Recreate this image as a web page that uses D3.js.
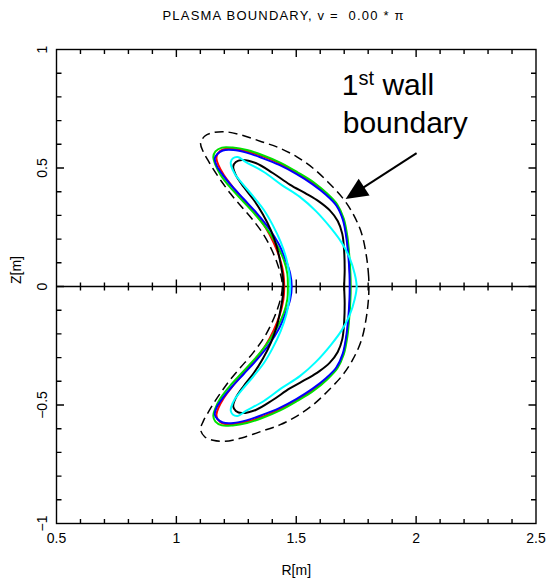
<!DOCTYPE html>
<html>
<head>
<meta charset="utf-8">
<script src="https://cdn.jsdelivr.net/npm/d3@7"></script>
<style>
  html, body { margin: 0; padding: 0; background: #fff; }
  svg { display: block; }
</style>
</head>
<body>
<script>
// Plasma boundary cross-sections at toroidal angle v = 0 (up-down symmetric).
// Each array holds the upper half as [R, Z] in metres, running from the
// outboard midplane over the top and tip back down to the inboard midplane.
const wallBoundary = [
  [1.803, 0], [1.802, 0.041], [1.793, 0.126], [1.772, 0.226], [1.735, 0.310],
  [1.694, 0.373], [1.631, 0.442], [1.569, 0.500], [1.501, 0.548], [1.431, 0.584],
  [1.355, 0.611], [1.272, 0.639], [1.202, 0.653], [1.153, 0.649], [1.119, 0.635],
  [1.101, 0.604], [1.112, 0.569], [1.131, 0.534], [1.156, 0.492], [1.190, 0.441],
  [1.227, 0.390], [1.269, 0.340], [1.319, 0.281], [1.365, 0.217], [1.398, 0.154],
  [1.423, 0.091], [1.438, 0.036], [1.442, 0]
];
const boundaryRed = [
  [1.725, 0], [1.724, 0.053], [1.719, 0.133], [1.710, 0.213], [1.696, 0.285],
  [1.669, 0.344], [1.627, 0.390], [1.569, 0.437], [1.502, 0.479], [1.431, 0.519],
  [1.360, 0.549], [1.294, 0.570], [1.240, 0.580], [1.194, 0.578], [1.173, 0.561],
  [1.167, 0.542], [1.175, 0.513], [1.198, 0.470], [1.235, 0.420], [1.281, 0.365],
  [1.331, 0.306], [1.373, 0.247], [1.406, 0.184], [1.431, 0.120], [1.446, 0.057],
  [1.450, 0]
];
const boundaryGreen = [
  [1.727, 0], [1.726, 0.053], [1.721, 0.133], [1.713, 0.213], [1.698, 0.287],
  [1.671, 0.346], [1.629, 0.392], [1.571, 0.441], [1.504, 0.483], [1.433, 0.523],
  [1.363, 0.553], [1.294, 0.576], [1.235, 0.586], [1.190, 0.586], [1.163, 0.570],
  [1.154, 0.546], [1.163, 0.513], [1.185, 0.470], [1.223, 0.420], [1.273, 0.365],
  [1.327, 0.306], [1.377, 0.243], [1.419, 0.175], [1.448, 0.112], [1.463, 0.053],
  [1.465, 0]
];
const boundaryBlue = [
  [1.723, 0], [1.722, 0.053], [1.717, 0.133], [1.708, 0.213], [1.694, 0.283],
  [1.667, 0.342], [1.625, 0.386], [1.567, 0.432], [1.500, 0.475], [1.429, 0.513],
  [1.358, 0.542], [1.292, 0.565], [1.238, 0.576], [1.194, 0.574], [1.171, 0.559],
  [1.160, 0.540], [1.169, 0.508], [1.194, 0.470], [1.231, 0.424], [1.281, 0.369],
  [1.335, 0.310], [1.385, 0.247], [1.427, 0.179], [1.456, 0.112], [1.475, 0.053],
  [1.481, 0]
];
const boundaryBlack = [
  [1.700, 0], [1.702, 0.070], [1.700, 0.146], [1.692, 0.222], [1.673, 0.276],
  [1.640, 0.321], [1.594, 0.359], [1.544, 0.390], [1.473, 0.430], [1.402, 0.479],
  [1.331, 0.521], [1.273, 0.534], [1.248, 0.525], [1.237, 0.506], [1.248, 0.470],
  [1.281, 0.420], [1.323, 0.365], [1.360, 0.306], [1.394, 0.238], [1.419, 0.167],
  [1.435, 0.095], [1.444, 0.040], [1.446, 0]
];
const boundaryCyan = [
  [1.752, 0], [1.744, 0.053], [1.723, 0.120], [1.690, 0.184], [1.644, 0.247],
  [1.581, 0.319], [1.515, 0.378], [1.440, 0.428], [1.365, 0.483], [1.290, 0.525],
  [1.256, 0.546], [1.235, 0.540], [1.227, 0.525], [1.229, 0.508], [1.244, 0.475],
  [1.277, 0.432], [1.319, 0.382], [1.365, 0.323], [1.402, 0.259], [1.435, 0.188],
  [1.458, 0.120], [1.471, 0.053], [1.475, 0]
];

// Axis tick labels (major ticks) and minor tick positions
const xTickLabels = [0.5, 1, 1.5, 2, 2.5];
const zTickLabels = [-1, -0.5, 0, 0.5, 1];
const xMinorTicks = [0.6, 0.7, 0.8, 0.9, 1.1, 1.2, 1.3, 1.4, 1.6, 1.7, 1.8, 1.9,
                     2.1, 2.2, 2.3, 2.4];
const zMinorTicks = [-0.9, -0.8, -0.7, -0.6, -0.4, -0.3, -0.2, -0.1,
                     0.1, 0.2, 0.3, 0.4, 0.6, 0.7, 0.8, 0.9];

// Annotation: label anchors and arrow, in data units (R, Z)
const wallLabelLine1 = [1.690, 0.808];
const wallLabelLine2 = [1.694, 0.648];
const arrowTail = [2.002, 0.563];
const arrowTip = [1.706, 0.369];

const W = 548, H = 580;
const font = "'Liberation Sans', Arial, Helvetica, sans-serif";

const svg = d3.select("body").append("svg")
  .attr("width", W).attr("height", H)
  .attr("viewBox", `0 0 ${W} ${H}`);
svg.append("rect").attr("width", W).attr("height", H).attr("fill", "#fff");

const x = d3.scaleLinear().domain([0.5, 2.5]).range([56.5, 536]);
const y = d3.scaleLinear().domain([-1, 1]).range([523.5, 49.5]);
const [x0, x1] = x.range();
const [yb, yt] = y.range();
const y0 = y(0);

// Tick marks: collect segments for every side, then draw them as one path
const xMajor = xTickLabels.slice(1, -1);
const zMajor = zTickLabels.slice(1, -1);
const segs = [];
const addX = (vals, len) => vals.forEach(v => {
  const px = x(v);
  segs.push([[px, yb], [px, yb - len]]);          // bottom, inward
  segs.push([[px, yt], [px, yt + len]]);          // top, inward
});
const addZ = (vals, len) => vals.forEach(v => {
  const py = y(v);
  segs.push([[x0, py], [x0 + len, py]]);          // left, inward
  segs.push([[x1, py], [x1 - len, py]]);          // right, inward
});
const addMid = (vals, half) => vals.forEach(v => {
  const px = x(v);
  segs.push([[px, y0 - half], [px, y0 + half]]);  // crossing the midplane
});
addX(xMinorTicks, 4.5); addX(xMajor, 7.5);
addZ(zMinorTicks, 5);   addZ(zMajor, 7.5);
addMid(xMinorTicks, 4); addMid(xMajor, 7);

svg.append("path")
  .attr("class", "ticks")
  .attr("d", segs.map(([a, b]) => `M${a[0]},${a[1]}L${b[0]},${b[1]}`).join(""))
  .attr("fill", "none")
  .attr("stroke", "#000")
  .attr("stroke-width", 1.4);

// Frame and midplane line
svg.append("rect")
  .attr("x", x0).attr("y", yt)
  .attr("width", x1 - x0).attr("height", yb - yt)
  .attr("fill", "none").attr("stroke", "#000").attr("stroke-width", 1.4);
svg.append("line")
  .attr("x1", x0).attr("x2", x1).attr("y1", y0).attr("y2", y0)
  .attr("stroke", "#000").attr("stroke-width", 1.4);

// Tick labels
const fmt = d => d3.format("")(d).replace("-", "\u2212");
svg.append("g").selectAll("text").data(xTickLabels).join("text")
  .attr("x", d => x(d)).attr("y", 543)
  .attr("text-anchor", "middle")
  .attr("font-family", font).attr("font-size", 14)
  .text(fmt);
svg.append("g").selectAll("text").data(zTickLabels).join("text")
  .attr("transform", d => `translate(47,${y(d)}) rotate(-90)`)
  .attr("text-anchor", "middle")
  .attr("font-family", font).attr("font-size", 14)
  .text(fmt);

// Axis titles
svg.append("text")
  .attr("x", (x0 + x1) / 2).attr("y", 575)
  .attr("text-anchor", "middle")
  .attr("font-family", font).attr("font-size", 14)
  .text("R[m]");
svg.append("text")
  .attr("transform", `translate(21,270) rotate(-90)`)
  .attr("text-anchor", "middle")
  .attr("font-family", font).attr("font-size", 14)
  .text("Z[m]");

// Chart title
svg.append("text")
  .attr("x", 283).attr("y", 19.5)
  .attr("text-anchor", "middle")
  .attr("font-family", font).attr("font-size", 13)
  .attr("textLength", 241).attr("lengthAdjust", "spacing")
  .style("white-space", "pre")
  .text("PLASMA BOUNDARY, v =  0.00 * \u03c0");

// Boundary curves: mirror the upper half to close each cross-section
const fullLoop = half => half.concat(half.slice(1, -1).reverse().map(([r, z]) => [r, -z]));
const line = d3.line()
  .x(d => x(d[0])).y(d => y(d[1]))
  .curve(d3.curveCatmullRomClosed.alpha(0.5));

const curves = [
  { pts: wallBoundary, color: "#000", width: 1.5, dash: "9,5" },
  { pts: boundaryRed, color: "#ff0000", width: 2 },
  { pts: boundaryGreen, color: "#00e000", width: 2 },
  { pts: boundaryBlue, color: "#0000ff", width: 2 },
  { pts: boundaryBlack, color: "#000", width: 2 },
  { pts: boundaryCyan, color: "#00ffff", width: 2 }
];
svg.append("g").selectAll("path").data(curves).join("path")
  .attr("d", d => line(fullLoop(d.pts)))
  .attr("fill", "none")
  .attr("stroke", d => d.color)
  .attr("stroke-width", d => d.width)
  .attr("stroke-dasharray", d => d.dash || null)
  .attr("stroke-linejoin", "round");

// Annotation text
const ann = svg.append("g").attr("font-family", font).attr("fill", "#000");
const t1 = ann.append("text")
  .attr("x", x(wallLabelLine1[0])).attr("y", y(wallLabelLine1[1]))
  .attr("font-size", 30);
t1.append("tspan").text("1");
t1.append("tspan").attr("font-size", 20).attr("dy", -10).text("st");
t1.append("tspan").attr("dy", 10).text(" wall");
ann.append("text")
  .attr("x", x(wallLabelLine2[0])).attr("y", y(wallLabelLine2[1]))
  .attr("font-size", 30)
  .text("boundary");

// Arrow pointing at the wall
const tx = x(arrowTail[0]), ty = y(arrowTail[1]);
const hx = x(arrowTip[0]), hy = y(arrowTip[1]);
const len = Math.hypot(hx - tx, hy - ty);
const ux = (hx - tx) / len, uy = (hy - ty) / len;
const headL = 22, headW = 10;
const bx = hx - ux * headL, by = hy - uy * headL;
svg.append("line")
  .attr("x1", tx).attr("y1", ty).attr("x2", bx + ux * 2).attr("y2", by + uy * 2)
  .attr("stroke", "#000").attr("stroke-width", 2);
svg.append("path")
  .attr("d", `M${hx},${hy}L${bx - uy * headW},${by + ux * headW}L${bx + uy * headW},${by - ux * headW}Z`)
  .attr("fill", "#000");
</script>
</body>
</html>
